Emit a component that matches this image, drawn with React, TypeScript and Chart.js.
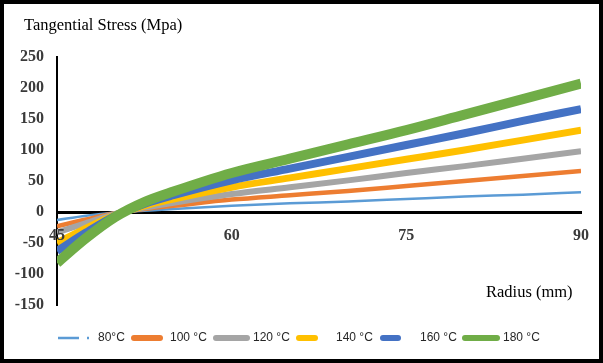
import { useEffect, useRef } from "react";
import { Chart, registerables } from "chart.js";

Chart.register(...registerables);

// Radius (mm)
const radius = [45, 47.5, 50, 52.5, 55, 60, 65, 70, 75, 80, 85, 90];

// Tangential stress (MPa) per temperature
const stress80 = [-13, -6, -1, 2, 5, 10, 14, 17, 21, 25, 28, 32];
const stress100 = [-23, -12, -2, 5, 10, 20, 27, 34, 42, 50, 58, 66];
const stress120 = [-33, -18, -3, 7, 15, 29, 40, 51, 63, 74, 86, 98];
const stress140 = [-50, -26, -5, 10, 21, 40, 55, 70, 85, 100, 116, 132];
const stress160 = [-63, -33, -6, 13, 27, 51, 70, 89, 108, 127, 147, 166];
const stress180 = [-82, -42, -8, 16, 33, 63, 86, 109, 132, 157, 182, 207];

const seriesLabels = ["80°C", "100 °C", "120 °C", "140 °C", "160 °C", "180 °C"];
const seriesValues = [stress80, stress100, stress120, stress140, stress160, stress180];
const seriesColors = ["#5B9BD5", "#ED7D31", "#A5A5A5", "#FFC000", "#4472C4", "#70AD47"];
const seriesWidths = [2.5, 4.5, 6, 7, 8, 10];

const yTitle = "Tangential Stress (Mpa)";
const xTitle = "Radius (mm)";

const legendLineX = [
  [58, 79],
  [131, 163],
  [213, 250],
  [296, 318],
  [380, 401],
  [462, 500],
];
const legendTextX = [98, 170, 253, 336, 420, 503];

const decorPlugin = {
  id: "decor",
  beforeDraw(chart: any) {
    const ctx = chart.ctx;
    ctx.save();
    ctx.fillStyle = "#ffffff";
    ctx.fillRect(0, 0, chart.width, chart.height);
    ctx.restore();
  },
  afterDraw(chart: any) {
    const ctx = chart.ctx;
    ctx.save();
    // titles
    ctx.fillStyle = "#000000";
    ctx.textBaseline = "middle";
    ctx.textAlign = "left";
    ctx.font = "16.5px 'Liberation Serif'";
    ctx.fillText(yTitle, 24, 26);
    ctx.fillText(xTitle, 486, 293);
    // legend
    const ly = 338;
    ctx.font = "12px 'Liberation Sans'";
    ctx.fillStyle = "#262626";
    seriesLabels.forEach((lab, i) => {
      const [x0, x1] = legendLineX[i];
      ctx.strokeStyle = seriesColors[i];
      if (i === 0) {
        ctx.lineWidth = 2.5;
        ctx.lineCap = "butt";
        ctx.beginPath();
        ctx.moveTo(x0, ly);
        ctx.lineTo(x1, ly);
        ctx.stroke();
        ctx.beginPath();
        ctx.moveTo(x1 + 8, ly);
        ctx.lineTo(x1 + 10, ly);
        ctx.stroke();
      } else {
        ctx.lineWidth = 6;
        ctx.lineCap = "round";
        ctx.beginPath();
        ctx.moveTo(x0 + 3, ly);
        ctx.lineTo(x1 - 3, ly);
        ctx.stroke();
      }
      ctx.fillText(lab, legendTextX[i], ly);
    });
    // outer frame
    ctx.strokeStyle = "#000000";
    ctx.lineWidth = 4;
    ctx.lineCap = "butt";
    ctx.strokeRect(2, 2, chart.width - 4, chart.height - 4);
    ctx.restore();
  },
};

export default function App() {
  const ref = useRef<HTMLCanvasElement>(null);
  useEffect(() => {
    document.body.style.margin = "0";
    const canvas = ref.current!;
    const chart = new Chart(canvas, {
      type: "line",
      data: {
        datasets: seriesValues.map((vals, i) => ({
          label: seriesLabels[i],
          data: radius.map((r, k) => ({ x: r, y: vals[k] })),
          borderColor: seriesColors[i],
          backgroundColor: seriesColors[i],
          borderWidth: seriesWidths[i],
          pointRadius: 0,
          cubicInterpolationMode: "monotone" as const,
          fill: false,
          order: seriesValues.length - i,
          clip: 0,
        })),
      },
      options: {
        responsive: false,
        animation: false,
        devicePixelRatio: 1,
        layout: { padding: { left: 0, right: 21, top: 57, bottom: 58 } },
        plugins: {
          legend: { display: false },
          tooltip: { enabled: false },
          title: { display: false },
        },
        scales: {
          x: {
            type: "linear",
            position: { y: 0 } as any,
            min: 45,
            max: 90,
            grid: { display: false, drawTicks: false },
            border: { display: true, color: "#000000", width: 3 },
            ticks: {
              stepSize: 15,
              padding: 14,
              z: 1,
              color: "#3a3a3a",
              font: { family: "'Liberation Serif'", size: 16, weight: "bold" },
              maxRotation: 0,
            },
          },
          y: {
            type: "linear",
            position: "left",
            min: -150,
            max: 250,
            grid: { display: false, drawTicks: false },
            border: { display: true, color: "#000000", width: 2 },
            ticks: {
              stepSize: 50,
              padding: 13,
              color: "#3a3a3a",
              font: { family: "'Liberation Serif'", size: 16, weight: "bold" },
            },
            afterFit(scale: any) {
              scale.width = 57;
            },
          },
        },
      },
      plugins: [decorPlugin],
    });
    return () => chart.destroy();
  }, []);
  return (
    <div style={{ width: 603, height: 363 }}>
      <canvas ref={ref} width={603} height={363} style={{ display: "block" }} />
    </div>
  );
}
